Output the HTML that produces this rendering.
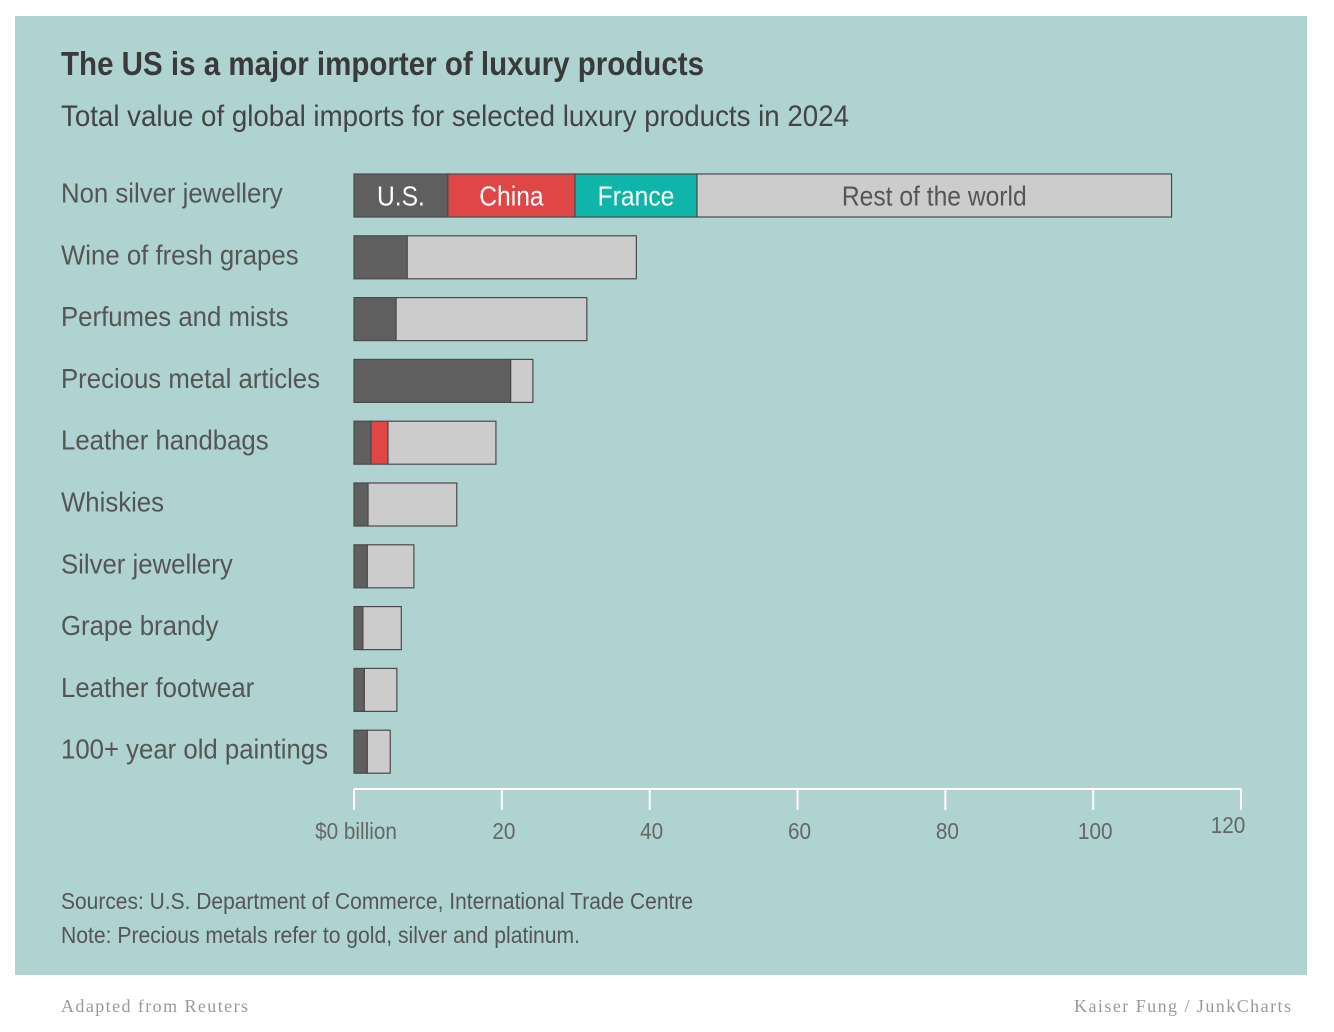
<!DOCTYPE html>
<html><head><meta charset="utf-8">
<style>
body{margin:0;background:#fff;}
svg{display:block;}
text{font-family:"Liberation Sans",sans-serif;}
</style></head>
<body>
<svg id="chart" width="1334" height="1032">
<rect x="15" y="16" width="1292" height="959" fill="#aed3d1"/>
<text x="61" y="75" font-size="33" font-weight="bold" fill="#3a3a3a" textLength="643" lengthAdjust="spacingAndGlyphs">The US is a major importer of luxury products</text>
<text x="61" y="126" font-size="30" fill="#444" textLength="788" lengthAdjust="spacingAndGlyphs">Total value of global imports for selected luxury products in 2024</text>
<g id="bars"></g>
<g id="axis"></g>
<text x="61" y="909" font-size="23" fill="#555" textLength="632" lengthAdjust="spacingAndGlyphs">Sources: U.S. Department of Commerce, International Trade Centre</text>
<text x="61" y="943" font-size="23" fill="#555" textLength="519" lengthAdjust="spacingAndGlyphs">Note: Precious metals refer to gold, silver and platinum.</text>
<text x="61" y="1012" font-size="18" fill="#999" textLength="187" lengthAdjust="spacing" style="font-family:'Liberation Serif',serif">Adapted from Reuters</text>
<text x="1074" y="1012" font-size="18" fill="#999" textLength="217" lengthAdjust="spacing" style="font-family:'Liberation Serif',serif">Kaiser Fung / JunkCharts</text>
</svg>
<script>
const categories=["Non silver jewellery","Wine of fresh grapes","Perfumes and mists","Precious metal articles","Leather handbags","Whiskies","Silver jewellery","Grape brandy","Leather footwear","100+ year old paintings"];
const usValues=[12.7,7.2,5.7,21.2,2.3,1.9,1.8,1.2,1.4,1.8];
const chinaValues=[17.2,0,0,0,2.3,0,0,0,0,0];
const franceValues=[16.5,0,0,0,0,0,0,0,0,0];
const totalValues=[110.6,38.2,31.5,24.2,19.2,13.9,8.1,6.4,5.8,4.9];
const tickValues=[0,20,40,60,80,100,120];
const tickLabels=["$0 billion","20","40","60","80","100","120"];
const NS="http://www.w3.org/2000/svg";
const x=v=>354+v*7.392;
const yc=i=>195.5+i*61.8;
const bh=43;
function mk(tag,attrs,parent){const e=document.createElementNS(NS,tag);for(const k in attrs)e.setAttribute(k,attrs[k]);parent.appendChild(e);return e;}
const bars=document.getElementById('bars');
categories.forEach((c,i)=>{
  const lab=mk('text',{x:0,y:0,'font-size':28,fill:'#555',transform:'translate(61,'+(yc(i)+7)+') scale(0.92,1)'},bars);
  lab.textContent=c;
  
  
  const segs=[[0,usValues[i],'#5f5f5f','us'],[usValues[i],chinaValues[i],'#e04646','china'],[usValues[i]+chinaValues[i],franceValues[i],'#10b5a9','france']];
  const others=usValues[i]+chinaValues[i]+franceValues[i];
  segs.push([others,totalValues[i]-others,'#cccccc','rest']);
  segs.forEach(s=>{
    if(s[1]<=0)return;
    const r=mk('rect',{x:x(s[0]),y:yc(i)-bh/2,width:x(s[0]+s[1])-x(s[0]),height:bh,fill:s[2],stroke:'#4a4a4a','stroke-width':1.2},bars);
    
    
    if(i===0){
      const cx=(x(s[0])+x(s[0]+s[1]))/2;
      const t=mk('text',{x:0,y:0,'font-size':28,'text-anchor':'middle',fill:s[3]==='rest'?'#555':'#fff',transform:'translate('+cx+','+(yc(i)+10)+') scale(0.88,1)'},bars);
      t.textContent={us:'U.S.',china:'China',france:'France',rest:'Rest of the world'}[s[3]];
      
      
    }
  });
});
const ax=document.getElementById('axis');
const line=mk('line',{x1:x(0),x2:x(120),y1:789,y2:789,stroke:'#fff','stroke-width':2},ax);


tickValues.forEach((v,i)=>{
  const tk=mk('line',{x1:x(v),x2:x(v),y1:789,y2:810,stroke:'#fff','stroke-width':2},ax);
  
  
  const tx=i===6?x(v)-13:x(v)+2;
  const t=mk('text',{x:0,y:0,'font-size':23,'text-anchor':'middle',fill:'#666',transform:'translate('+tx+','+(i===6?833:839)+') scale(0.9,1)'},ax);
  t.textContent=tickLabels[i];
  
  
});
</script>
</body></html>
